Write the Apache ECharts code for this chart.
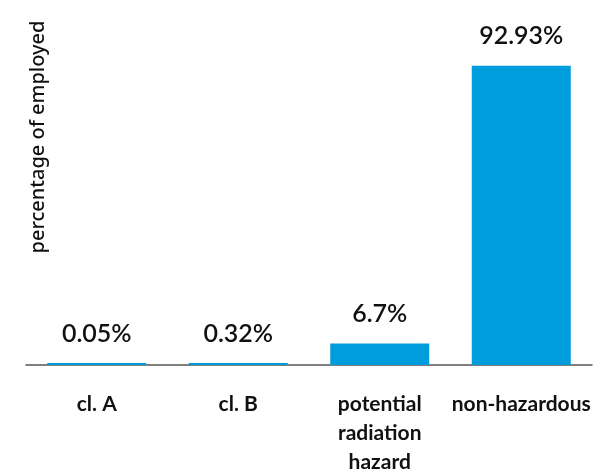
<!DOCTYPE html>
<html>
<head>
<meta charset="utf-8">
<script src="https://cdn.jsdelivr.net/npm/echarts@6/dist/echarts.min.js"></script>
<style>
  html, body { margin: 0; padding: 0; background: #fff; }
  #chart { width: 597px; height: 471px; }
</style>
</head>
<body>
<div id="chart"></div>
<script>
// Share of employed people by working-condition class
const categories = ['cl. A', 'cl. B', 'potential\nradiation\nhazard', 'non-hazardous'];
const shares = [0.05, 0.32, 6.7, 92.93];
const yAxisTitle = 'percentage of employed';

const chart = echarts.init(document.getElementById('chart'), null, { renderer: 'canvas' });

chart.setOption({
  animation: false,
  grid: { left: 26, right: 5, top: 43, bottom: 106, outerBoundsMode: 'none', containLabel: false },
  xAxis: {
    type: 'category',
    data: categories,
    axisLine: { lineStyle: { color: '#555', width: 1.5 } },
    axisTick: { show: false },
    axisLabel: {
      margin: 25,
      interval: 0,
      fontFamily: 'Lato',
      fontSize: 21,
      fontWeight: 'bold',
      lineHeight: 29,
      color: '#111'
    }
  },
  yAxis: {
    type: 'value',
    min: 0,
    max: 100,
    show: false
  },
  series: [{
    type: 'bar',
    data: shares,
    barWidth: 99,
    barMinHeight: 2,
    itemStyle: { color: '#009ddc' },
    label: {
      show: true,
      position: 'top',
      distance: 17,
      formatter: p => p.value + '%',
      fontFamily: 'Lato',
      fontSize: 25,
      fontWeight: 600,
      color: '#111'
    }
  }],
  graphic: [{
    type: 'text',
    x: 38,
    y: 137,
    rotation: Math.PI / 2,
    style: {
      text: yAxisTitle,
      fontFamily: 'Noto Sans',
      fontSize: 20,
      fontWeight: 500,
      fill: '#111',
      align: 'center',
      verticalAlign: 'middle'
    }
  }]
});
</script>
</body>
</html>
